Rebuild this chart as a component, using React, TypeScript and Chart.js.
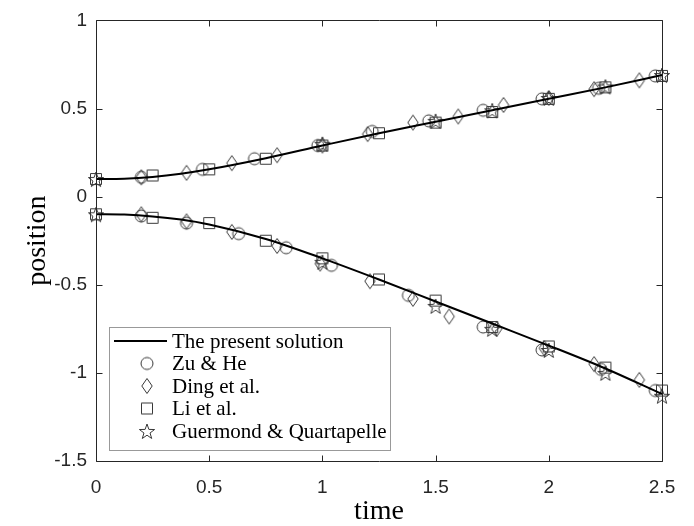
import React, { useEffect, useRef } from "react";
import { Chart, registerables } from "chart.js";

Chart.register(...registerables);

// ---- data ----
const solTime = [0, 0.125, 0.25, 0.375, 0.5, 0.75, 1, 1.25, 1.5, 1.75, 2, 2.25, 2.5];
const solUpper = [0.1, 0.102, 0.112, 0.13, 0.155, 0.218, 0.29, 0.36, 0.425, 0.49, 0.555, 0.62, 0.69];
const solLower = [-0.1, -0.102, -0.112, -0.13, -0.158, -0.24, -0.35, -0.47, -0.595, -0.72, -0.845, -0.975, -1.12];

const zuUpperT = [0.2, 0.47, 0.7, 0.98, 1.22, 1.47, 1.71, 1.97, 2.22, 2.47];
const zuUpperY = [0.11, 0.155, 0.215, 0.29, 0.37, 0.43, 0.49, 0.555, 0.615, 0.685];
const zuLowerT = [0.2, 0.4, 0.63, 0.84, 1.04, 1.38, 1.71, 1.97, 2.23, 2.47];
const zuLowerY = [-0.11, -0.15, -0.21, -0.29, -0.39, -0.56, -0.74, -0.87, -0.98, -1.1];

const dingUpperT = [0.2, 0.4, 0.6, 0.8, 1.0, 1.2, 1.4, 1.6, 1.8, 2.0, 2.2, 2.4];
const dingUpperY = [0.11, 0.135, 0.19, 0.235, 0.29, 0.355, 0.42, 0.455, 0.52, 0.56, 0.61, 0.66];
const dingLowerT = [0.2, 0.4, 0.6, 0.8, 0.99, 1.21, 1.4, 1.56, 1.77, 1.98, 2.2, 2.4];
const dingLowerY = [-0.1, -0.14, -0.2, -0.28, -0.38, -0.48, -0.58, -0.68, -0.75, -0.86, -0.95, -1.04];

const liUpperT = [0, 0.25, 0.5, 0.75, 1, 1.25, 1.5, 1.75, 2, 2.25, 2.5];
const liUpperY = [0.1, 0.12, 0.155, 0.215, 0.29, 0.36, 0.42, 0.48, 0.555, 0.62, 0.685];
const liLowerT = [0, 0.25, 0.5, 0.75, 1, 1.25, 1.5, 1.75, 2, 2.25, 2.5];
const liLowerY = [-0.1, -0.12, -0.15, -0.25, -0.35, -0.47, -0.59, -0.74, -0.85, -0.97, -1.1];

const gqUpperT = [0, 1, 1.5, 1.75, 2, 2.25, 2.5];
const gqUpperY = [0.1, 0.3, 0.43, 0.49, 0.56, 0.625, 0.69];
const gqLowerT = [0, 1, 1.5, 1.75, 2, 2.25, 2.5];
const gqLowerY = [-0.1, -0.37, -0.62, -0.75, -0.87, -1.0, -1.13];

const legendLabels = [
  "The present solution",
  "Zu & He",
  "Ding et al.",
  "Li et al.",
  "Guermond & Quartapelle",
];
const xTickValues = [0, 0.5, 1, 1.5, 2, 2.5];
const yTickValues = [-1.5, -1, -0.5, 0, 0.5, 1];
const xTitle = "time";
const yTitle = "position";

// ---- marker images ----
const MARK = "#383838";
function makeMarker(kind: string): HTMLCanvasElement {
  const s = 22;
  const c = document.createElement("canvas");
  c.width = s;
  c.height = s;
  const g = c.getContext("2d")!;
  g.strokeStyle = MARK;
  g.lineWidth = 1;
  const m = s / 2;
  g.beginPath();
  if (kind === "circle") {
    g.arc(m, m, 6, 0, Math.PI * 2);
  } else if (kind === "diamond") {
    g.moveTo(m, m - 7.5);
    g.lineTo(m + 5.2, m);
    g.lineTo(m, m + 7.5);
    g.lineTo(m - 5.2, m);
    g.closePath();
  } else if (kind === "square") {
    g.rect(m - 5.5, m - 5.5, 11, 11);
  } else {
    const R = 8;
    const r = 3.2;
    for (let i = 0; i < 10; i++) {
      const ang = -Math.PI / 2 + (i * Math.PI) / 5;
      const rr = i % 2 === 0 ? R : r;
      const px = m + rr * Math.cos(ang);
      const py = m + 1 + rr * Math.sin(ang);
      if (i === 0) g.moveTo(px, py);
      else g.lineTo(px, py);
    }
    g.closePath();
  }
  g.stroke();
  return c;
}

function pts(t: number[], y: number[]) {
  return t.map((v, i) => ({ x: v, y: y[i] }));
}

const TOP = 19;
const BOTTOM = 461;
const LEFT = 96;
const RIGHT = 662;
const W = 694;
const H = 526;

export default function App() {
  const ref = useRef<HTMLCanvasElement>(null);

  useEffect(() => {
    document.body.style.margin = "0";
    const canvas = ref.current!;
    const markers = {
      circle: makeMarker("circle"),
      diamond: makeMarker("diamond"),
      square: makeMarker("square"),
      star: makeMarker("star"),
    };
    const markerList = [markers.circle, markers.diamond, markers.square, markers.star];

    const lineDs = (data: any[]) => ({
      type: "line" as const,
      data,
      borderColor: "#000000",
      borderWidth: 2,
      pointRadius: 0,
      fill: false,
      cubicInterpolationMode: "monotone" as const,
      clip: false as any,
      order: 1,
    });
    const markDs = (data: any[], img: HTMLCanvasElement) => ({
      type: "scatter" as const,
      data,
      showLine: false,
      pointStyle: img,
      pointRadius: 7,
      borderColor: MARK,
      backgroundColor: "transparent",
      clip: false as any,
      order: 2,
    });

    const overlay = {
      id: "overlay",
      afterDraw(chart: any) {
        const { ctx, chartArea: a, scales } = chart;
        ctx.save();
        // frame
        ctx.strokeStyle = "#262626";
        ctx.lineWidth = 1;
        const L = Math.round(a.left) + 0.5;
        const R = Math.round(a.right) + 0.5;
        const T = Math.round(a.top) + 0.5;
        const B = Math.round(a.bottom) + 0.5;
        ctx.beginPath();
        ctx.rect(L, T, R - L, B - T);
        const tl = 6;
        xTickValues.forEach((v) => {
          const x = Math.round(scales.x.getPixelForValue(v)) + 0.5;
          ctx.moveTo(x, B);
          ctx.lineTo(x, B - tl);
          ctx.moveTo(x, T);
          ctx.lineTo(x, T + tl);
        });
        yTickValues.forEach((v) => {
          const y = Math.round(scales.y.getPixelForValue(v)) + 0.5;
          ctx.moveTo(L, y);
          ctx.lineTo(L + tl, y);
          ctx.moveTo(R, y);
          ctx.lineTo(R - tl, y);
        });
        ctx.stroke();

        // axis titles
        ctx.fillStyle = "#000000";
        ctx.font = "28px 'Liberation Serif', 'DejaVu Serif', serif";
        ctx.textAlign = "center";
        ctx.textBaseline = "middle";
        ctx.fillText(xTitle, (a.left + a.right) / 2, 512);
        ctx.save();
        ctx.translate(38, (a.top + a.bottom) / 2);
        ctx.rotate(-Math.PI / 2);
        ctx.fillText(yTitle, 0, 0);
        ctx.restore();

        // legend
        const bx = 109.5, by = 327.5, bw = 281, bh = 123;
        ctx.fillStyle = "#ffffff";
        ctx.fillRect(bx, by, bw, bh);
        ctx.strokeStyle = "#999999";
        ctx.lineWidth = 1;
        ctx.strokeRect(bx, by, bw, bh);
        const rowY = [341, 363.5, 386, 408.5, 431];
        ctx.font = "21px 'Liberation Serif', 'DejaVu Serif', serif";
        ctx.textAlign = "left";
        ctx.textBaseline = "middle";
        ctx.strokeStyle = "#000000";
        ctx.lineWidth = 2;
        ctx.beginPath();
        ctx.moveTo(114, rowY[0]);
        ctx.lineTo(167, rowY[0]);
        ctx.stroke();
        legendLabels.forEach((lab, i) => {
          if (i > 0) {
            const img = markerList[i - 1];
            ctx.drawImage(img, 147 - img.width / 2, rowY[i] - img.height / 2);
          }
          ctx.fillStyle = "#000000";
          ctx.fillText(lab, 172, rowY[i] + 1);
        });
        ctx.restore();
      },
    };

    const chart = new Chart(canvas, {
      type: "scatter",
      data: {
        datasets: [
          lineDs(pts(solTime, solUpper)),
          lineDs(pts(solTime, solLower)),
          markDs(pts(zuUpperT, zuUpperY), markers.circle),
          markDs(pts(zuLowerT, zuLowerY), markers.circle),
          markDs(pts(dingUpperT, dingUpperY), markers.diamond),
          markDs(pts(dingLowerT, dingLowerY), markers.diamond),
          markDs(pts(liUpperT, liUpperY), markers.square),
          markDs(pts(liLowerT, liLowerY), markers.square),
          markDs(pts(gqUpperT, gqUpperY), markers.star),
          markDs(pts(gqLowerT, gqLowerY), markers.star),
        ] as any,
      },
      options: {
        animation: false,
        responsive: false,
        layout: { padding: { left: 0, right: W - RIGHT, top: TOP, bottom: 0 } },
        plugins: { legend: { display: false }, tooltip: { enabled: false } },
        scales: {
          x: {
            type: "linear",
            min: 0,
            max: 2.5,
            afterBuildTicks: (s: any) => {
              s.ticks = xTickValues.map((v) => ({ value: v }));
            },
            afterFit: (s: any) => {
              s.height = H - BOTTOM;
            },
            grid: { display: false, drawTicks: false },
            border: { display: false },
            ticks: {
              padding: 15,
              color: "#262626",
              font: { family: "'Liberation Sans', Arial, sans-serif", size: 19 },
              callback: (v: any) => String(v),
              maxRotation: 0,
            },
          },
          y: {
            type: "linear",
            min: -1.5,
            max: 1,
            afterBuildTicks: (s: any) => {
              s.ticks = yTickValues.map((v) => ({ value: v }));
            },
            afterFit: (s: any) => {
              s.width = LEFT;
            },
            grid: { display: false, drawTicks: false },
            border: { display: false },
            ticks: {
              padding: 9,
              color: "#262626",
              font: { family: "'Liberation Sans', Arial, sans-serif", size: 19 },
              callback: (v: any) => String(v),
            },
          },
        },
      },
      plugins: [overlay],
    });
    return () => chart.destroy();
  }, []);

  return (
    <div style={{ width: W, height: H, background: "#fff" }}>
      <canvas ref={ref} width={W} height={H} style={{ display: "block" }} />
    </div>
  );
}
